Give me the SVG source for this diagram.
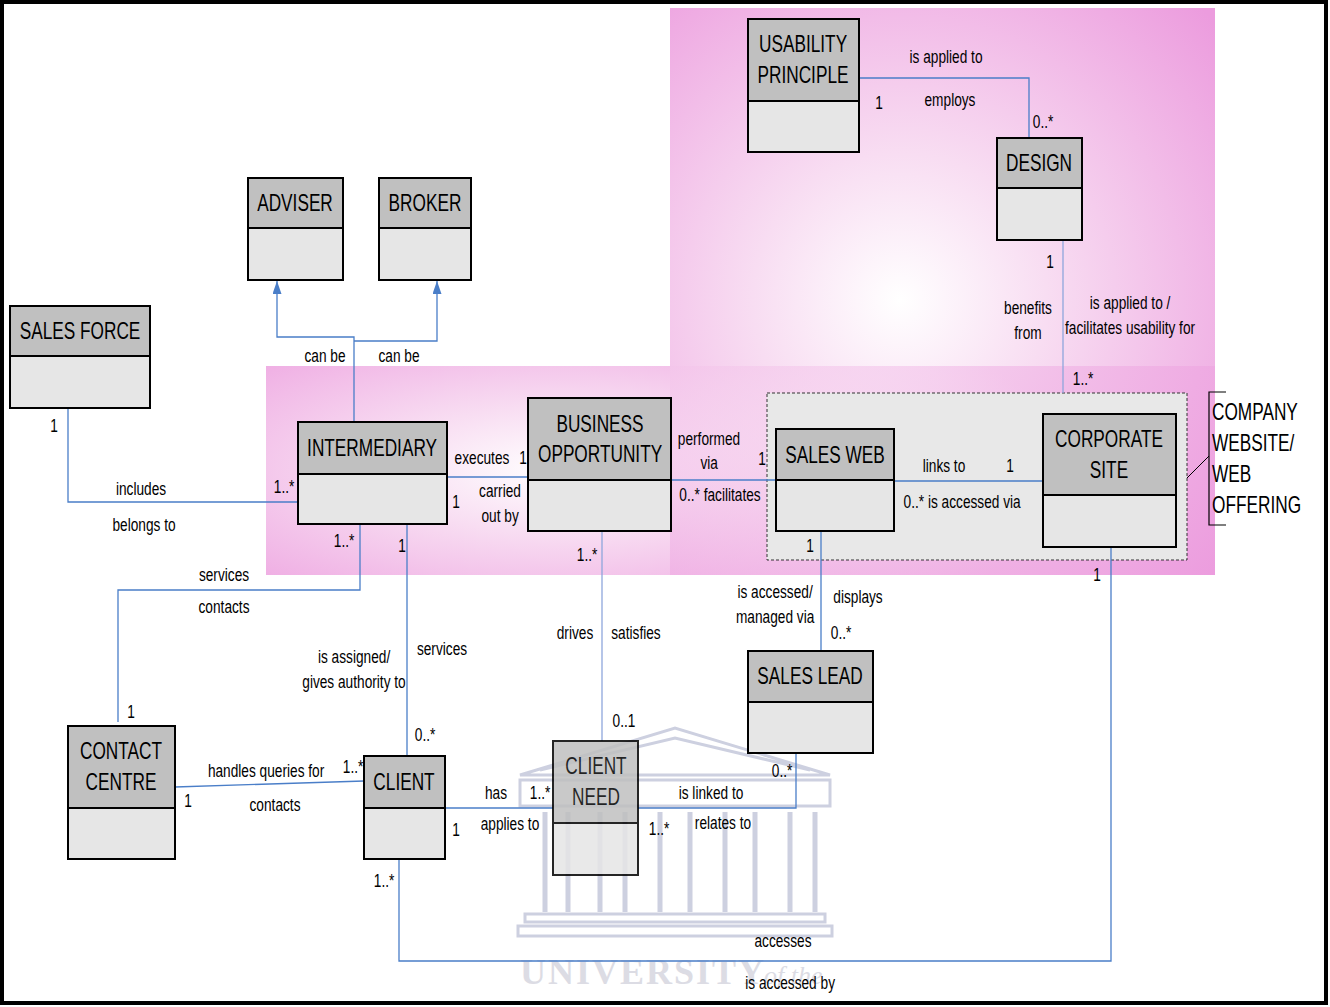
<svg xmlns="http://www.w3.org/2000/svg" width="1330" height="1007" viewBox="0 0 1330 1007">
<defs>
<radialGradient id="pg1" cx="900" cy="300" r="420" gradientUnits="userSpaceOnUse">
<stop offset="0" stop-color="#FFFFFF"/><stop offset="0.35" stop-color="#F8DDF2"/><stop offset="1" stop-color="#EC9CDE"/>
</radialGradient>
<radialGradient id="pg2" cx="560" cy="470" r="520" gradientTransform="translate(560 470) scale(1 0.35) translate(-560 -470)" gradientUnits="userSpaceOnUse">
<stop offset="0" stop-color="#FFFFFF"/><stop offset="0.35" stop-color="#F8DDF2"/><stop offset="1" stop-color="#EC9CDE"/>
</radialGradient>
<marker id="tri" viewBox="0 0 13 9" refX="13" refY="4.5" markerWidth="13" markerHeight="9" markerUnits="userSpaceOnUse" orient="auto">
<path d="M0,0 L13,4.5 L0,9 Z" fill="#4A7EC8"/>
</marker>
<style>
.hd{fill:#C0C0C0;stroke:#000;stroke-width:2}
.bd{fill:#E6E6E6;stroke:#000;stroke-width:2}
.t{font-family:"Liberation Sans",Arial,sans-serif;font-size:23px;fill:#000;text-anchor:middle;transform-box:fill-box;transform-origin:center;transform:scaleX(0.75)}
.ts{font-family:"Liberation Sans",Arial,sans-serif;font-size:23px;fill:#000;text-anchor:start;transform-box:fill-box;transform-origin:left;transform:scaleX(0.75)}
.l{font-family:"Liberation Sans",Arial,sans-serif;font-size:18.5px;fill:#000;text-anchor:middle;transform-box:fill-box;transform-origin:center;transform:scaleX(0.74)}
.c{fill:none;stroke:#4A7EC8;stroke-width:1.3}
.cl{fill:none;stroke:#8EA6DC;stroke-width:1.3}
.wm{fill:none;stroke:#CDD0E0;stroke-width:3}
</style>
</defs>
<rect x="0" y="0" width="1330" height="1007" fill="#FFFFFF"/>
<!-- pink regions -->
<rect x="670" y="8" width="545" height="567" fill="url(#pg1)"/>
<rect x="266" y="366" width="949" height="209" fill="url(#pg2)"/>
<rect x="670" y="366" width="545" height="209" fill="url(#pg1)" opacity="0.6"/>
<!-- watermark -->
<g id="watermark">
<path class="wm" d="M520,775 L675,728 L830,775 Z M540,770 L675,738 L810,770"/>
<rect class="wm" x="520" y="780" width="310" height="26"/>
<g stroke="#CDD0E0" stroke-width="5" fill="none">
<path d="M545,812 V912 M568,812 V912 M600,812 V912 M625,812 V912 M660,812 V912 M690,812 V912 M725,812 V912 M755,812 V912 M790,812 V912 M815,812 V912"/>
</g>
<rect class="wm" x="525" y="914" width="300" height="8"/>
<rect class="wm" x="518" y="926" width="314" height="10"/>
<text x="520" y="984" font-family="Liberation Serif,serif" font-size="36" font-weight="bold" fill="#DCDCE4" letter-spacing="2">UNIVERSITY</text>
<text x="764" y="984" font-family="Liberation Serif,serif" font-size="26" font-style="italic" fill="#DCDCE4">of the</text>
</g>
<!-- dashed group box -->
<rect x="767" y="393" width="420" height="167" fill="#E8E8E8" stroke="#333" stroke-width="1" stroke-dasharray="3,2"/>
<!-- connectors -->
<g id="connectors">
<path class="c" d="M859,78 H1029 V138"/>
<path class="cl" d="M1063,241 V393"/>
<path class="c" d="M354,422 V337 H277 V281" marker-end="url(#tri)"/>
<path class="c" d="M354,341 H437 V281" marker-end="url(#tri)"/>
<path class="c" d="M68,408 V502 H298"/>
<path class="c" d="M447,477 H528"/>
<path class="c" d="M671,480 H776"/>
<path class="c" d="M894,481 H1043"/>
<path class="c" d="M360,524 V590 H118 V722"/>
<path class="c" d="M407,524 V756"/>
<path class="cl" d="M602,531 V741"/>
<path class="c" d="M821,531 V651"/>
<path class="c" d="M175,787 L364,781"/>
<path class="c" d="M445,808 H553"/>
<path class="c" d="M638,808 H796 V750"/>
<path class="c" d="M399,859 V961 H1111 V547"/>
<path d="M1187,478 L1209,456" stroke="#000" stroke-width="1" fill="none"/>
<path d="M1226,392 H1209 V525 H1226" stroke="#000" stroke-width="1.2" fill="none"/>
</g>
<!-- nodes -->
<g id="usability-principle">
<rect class="hd" x="748" y="19" width="111" height="82"/><rect class="bd" x="748" y="101" width="111" height="51"/>
<text class="t" x="803" y="52">USABILITY</text><text class="t" x="803" y="83">PRINCIPLE</text>
</g>
<g id="design">
<rect class="hd" x="997" y="138" width="85" height="50"/><rect class="bd" x="997" y="188" width="85" height="52"/>
<text class="t" x="1039" y="171">DESIGN</text>
</g>
<g id="adviser">
<rect class="hd" x="248" y="178" width="95" height="50"/><rect class="bd" x="248" y="228" width="95" height="52"/>
<text class="t" x="295" y="211">ADVISER</text>
</g>
<g id="broker">
<rect class="hd" x="379" y="178" width="92" height="50"/><rect class="bd" x="379" y="228" width="92" height="52"/>
<text class="t" x="425" y="211">BROKER</text>
</g>
<g id="sales-force">
<rect class="hd" x="10" y="306" width="140" height="50"/><rect class="bd" x="10" y="356" width="140" height="52"/>
<text class="t" x="80" y="339">SALES FORCE</text>
</g>
<g id="intermediary">
<rect class="hd" x="298" y="422" width="149" height="52"/><rect class="bd" x="298" y="474" width="149" height="50"/>
<text class="t" x="372" y="456">INTERMEDIARY</text>
</g>
<g id="business-opportunity">
<rect class="hd" x="528" y="398" width="143" height="82"/><rect class="bd" x="528" y="480" width="143" height="51"/>
<text class="t" x="600" y="432">BUSINESS</text><text class="t" x="600" y="462">OPPORTUNITY</text>
</g>
<g id="sales-web">
<rect class="hd" x="776" y="429" width="118" height="51"/><rect class="bd" x="776" y="480" width="118" height="51"/>
<text class="t" x="835" y="463">SALES WEB</text>
</g>
<g id="corporate-site">
<rect class="hd" x="1043" y="414" width="133" height="81"/><rect class="bd" x="1043" y="495" width="133" height="52"/>
<text class="t" x="1109" y="447">CORPORATE</text><text class="t" x="1109" y="478">SITE</text>
</g>
<g id="company-website">
<text class="ts" x="1212" y="420">COMPANY</text>
<text class="ts" x="1212" y="451">WEBSITE/</text>
<text class="ts" x="1212" y="482">WEB</text>
<text class="ts" x="1212" y="513">OFFERING</text>
</g>
<g id="sales-lead">
<rect class="hd" x="748" y="651" width="125" height="51"/><rect class="bd" x="748" y="702" width="125" height="51"/>
<text class="t" x="810" y="684">SALES LEAD</text>
</g>
<g id="contact-centre">
<rect class="hd" x="68" y="726" width="107" height="82"/><rect class="bd" x="68" y="808" width="107" height="51"/>
<text class="t" x="121" y="759">CONTACT</text><text class="t" x="121" y="790">CENTRE</text>
</g>
<g id="client">
<rect class="hd" x="364" y="756" width="81" height="52"/><rect class="bd" x="364" y="808" width="81" height="51"/>
<text class="t" x="404" y="790">CLIENT</text>
</g>
<g id="client-need" opacity="0.85">
<rect class="hd" x="553" y="741" width="85" height="82"/><rect class="bd" x="553" y="823" width="85" height="52"/>
<text class="t" x="596" y="774">CLIENT</text><text class="t" x="596" y="805">NEED</text>
</g>
<!-- labels -->
<g id="labels">
<text class="l" x="946" y="63">is applied to</text>
<text class="l" x="879" y="109">1</text>
<text class="l" x="950" y="106">employs</text>
<text class="l" x="1043" y="128">0..*</text>
<text class="l" x="1050" y="268">1</text>
<text class="l" x="1028" y="314">benefits</text>
<text class="l" x="1028" y="339">from</text>
<text class="l" x="1130" y="309">is applied to /</text>
<text class="l" x="1130" y="334">facilitates usability for</text>
<text class="l" x="1083" y="385">1..*</text>
<text class="l" x="325" y="362">can be</text>
<text class="l" x="399" y="362">can be</text>
<text class="l" x="54" y="432">1</text>
<text class="l" x="141" y="495">includes</text>
<text class="l" x="144" y="531">belongs to</text>
<text class="l" x="284" y="493">1..*</text>
<text class="l" x="482" y="464">executes</text>
<text class="l" x="523" y="464">1</text>
<text class="l" x="456" y="508">1</text>
<text class="l" x="500" y="497">carried</text>
<text class="l" x="500" y="522">out by</text>
<text class="l" x="709" y="445">performed</text>
<text class="l" x="709" y="469">via</text>
<text class="l" x="762" y="465">1</text>
<text class="l" x="720" y="501">0..* facilitates</text>
<text class="l" x="944" y="472">links to</text>
<text class="l" x="1010" y="472">1</text>
<text class="l" x="962" y="508">0..*  is accessed via</text>
<text class="l" x="344" y="547">1..*</text>
<text class="l" x="402" y="552">1</text>
<text class="l" x="587" y="561">1..*</text>
<text class="l" x="810" y="552">1</text>
<text class="l" x="1097" y="581">1</text>
<text class="l" x="224" y="581">services</text>
<text class="l" x="224" y="613">contacts</text>
<text class="l" x="775" y="598">is accessed/</text>
<text class="l" x="775" y="623">managed via</text>
<text class="l" x="858" y="603">displays</text>
<text class="l" x="841" y="639">0..*</text>
<text class="l" x="575" y="639">drives</text>
<text class="l" x="636" y="639">satisfies</text>
<text class="l" x="354" y="663">is assigned/</text>
<text class="l" x="354" y="688">gives authority to</text>
<text class="l" x="442" y="655">services</text>
<text class="l" x="131" y="718">1</text>
<text class="l" x="624" y="727">0..1</text>
<text class="l" x="425" y="741">0..*</text>
<text class="l" x="266" y="777">handles queries for</text>
<text class="l" x="353" y="773">1..*</text>
<text class="l" x="188" y="807">1</text>
<text class="l" x="275" y="811">contacts</text>
<text class="l" x="496" y="799">has</text>
<text class="l" x="540" y="799">1..*</text>
<text class="l" x="456" y="836">1</text>
<text class="l" x="510" y="830">applies to</text>
<text class="l" x="711" y="799">is linked to</text>
<text class="l" x="782" y="777">0..*</text>
<text class="l" x="659" y="835">1..*</text>
<text class="l" x="723" y="829">relates to</text>
<text class="l" x="384" y="887">1..*</text>
<text class="l" x="783" y="947">accesses</text>
<text class="l" x="790" y="989">is accessed by</text>
</g>
<!-- frame -->
<rect x="2" y="2" width="1324" height="1001" fill="none" stroke="#000" stroke-width="4"/>
</svg>
